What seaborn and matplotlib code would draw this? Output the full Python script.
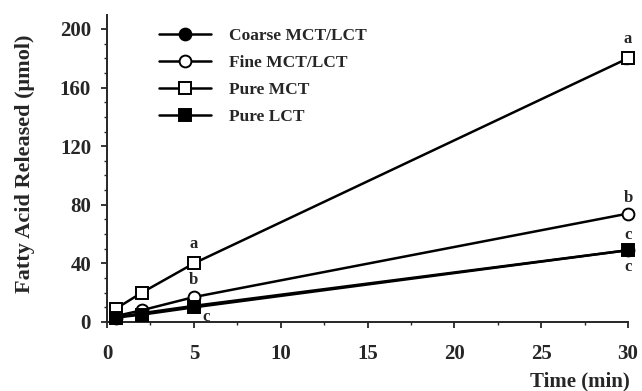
import numpy as np
import pandas as pd
import matplotlib
matplotlib.use("Agg")
import matplotlib.pyplot as plt
from matplotlib.ticker import MultipleLocator
import seaborn as sns

# data
time_min = [0.5, 2, 5, 30]
coarse_mct_lct = [3, 6, 11, 49]
fine_mct_lct = [4, 8, 17, 74]
pure_mct = [9, 20, 40, 180]
pure_mct_err = [0, 0, 0, 4]
pure_lct = [3, 5, 10, 49]

series_names = ["Coarse MCT/LCT", "Fine MCT/LCT", "Pure MCT", "Pure LCT"]
series_values = [coarse_mct_lct, fine_mct_lct, pure_mct, pure_lct]
series_markers = ["o", "o", "s", "s"]
series_faces = ["black", "white", "white", "black"]

# significance letters: (time, value, letter, offset in points)
letters_t = [5, 5, 5, 30, 30, 30, 30]
letters_y = [40, 17, 10, 180, 74, 49, 49]
letters_txt = ["a", "b", "c", "a", "b", "c", "c"]
letters_off = [(0, 14), (0, 12), (9, -7), (0, 14), (0, 11), (0, 11), (0, -12)]

sns.set_style("ticks")
plt.rcParams["font.family"] = ["Liberation Serif", "DejaVu Serif"]
plt.rcParams["font.weight"] = "bold"

fig = plt.figure(figsize=(6.42, 3.91), dpi=100)
ax = fig.add_axes([0.1667, 0.1765, 0.8115, 0.785])

for name, vals, mk, fc in zip(series_names, series_values, series_markers, series_faces):
    df = pd.DataFrame({"t": time_min, "v": vals})
    sns.lineplot(data=df, x="t", y="v", ax=ax, color="black", lw=1.8,
                 marker=mk, markersize=8.5, markerfacecolor=fc,
                 markeredgecolor="black", markeredgewidth=1.4,
                 label=name, clip_on=False, zorder=3)

ax.errorbar(time_min, pure_mct, yerr=pure_mct_err, fmt="none",
            ecolor="black", elinewidth=1.2, capsize=3, zorder=2)

for t, v, s, off in zip(letters_t, letters_y, letters_txt, letters_off):
    ax.annotate(s, (t, v), xytext=off, textcoords="offset points",
                ha="center", va="center", fontsize=12, fontweight="bold")

ax.set_xlim(0, 30)
ax.set_ylim(0, 209.5)
ax.set_yticks([0, 40, 80, 120, 160, 200])
ax.set_xticks([0, 5, 10, 15, 20, 25, 30])
ax.xaxis.set_minor_locator(MultipleLocator(2.5))
ax.yaxis.set_minor_locator(MultipleLocator(10))
ax.tick_params(which="major", length=4.5, width=1.3, labelsize=15, direction="out")
ax.tick_params(axis="x", which="major", pad=11)
ax.tick_params(axis="y", which="major", pad=7)
ax.tick_params(which="minor", length=2.5, width=1.0, direction="out")
for lab in ax.get_xticklabels() + ax.get_yticklabels():
    lab.set_fontweight("bold")
for sp in ["left", "bottom"]:
    ax.spines[sp].set_linewidth(1.4)
sns.despine(ax=ax)

ax.set_xlabel("Time (min)", fontsize=15, fontweight="bold", ha="right", va="center")
ax.xaxis.set_label_coords(1.004, -0.195)
ax.set_ylabel("Fatty Acid Released (\u03bcmol)", fontsize=16, fontweight="bold", va="center")
ax.yaxis.set_label_coords(-0.157, 0.515)

leg = ax.legend(loc="upper left", bbox_to_anchor=(0.087, 0.98), frameon=False,
                fontsize=12.5, handlelength=3.0, handletextpad=1.0,
                labelspacing=0.62, borderaxespad=0)
for txt in leg.get_texts():
    txt.set_fontweight("bold")

fig.savefig("out.png", dpi=100)
